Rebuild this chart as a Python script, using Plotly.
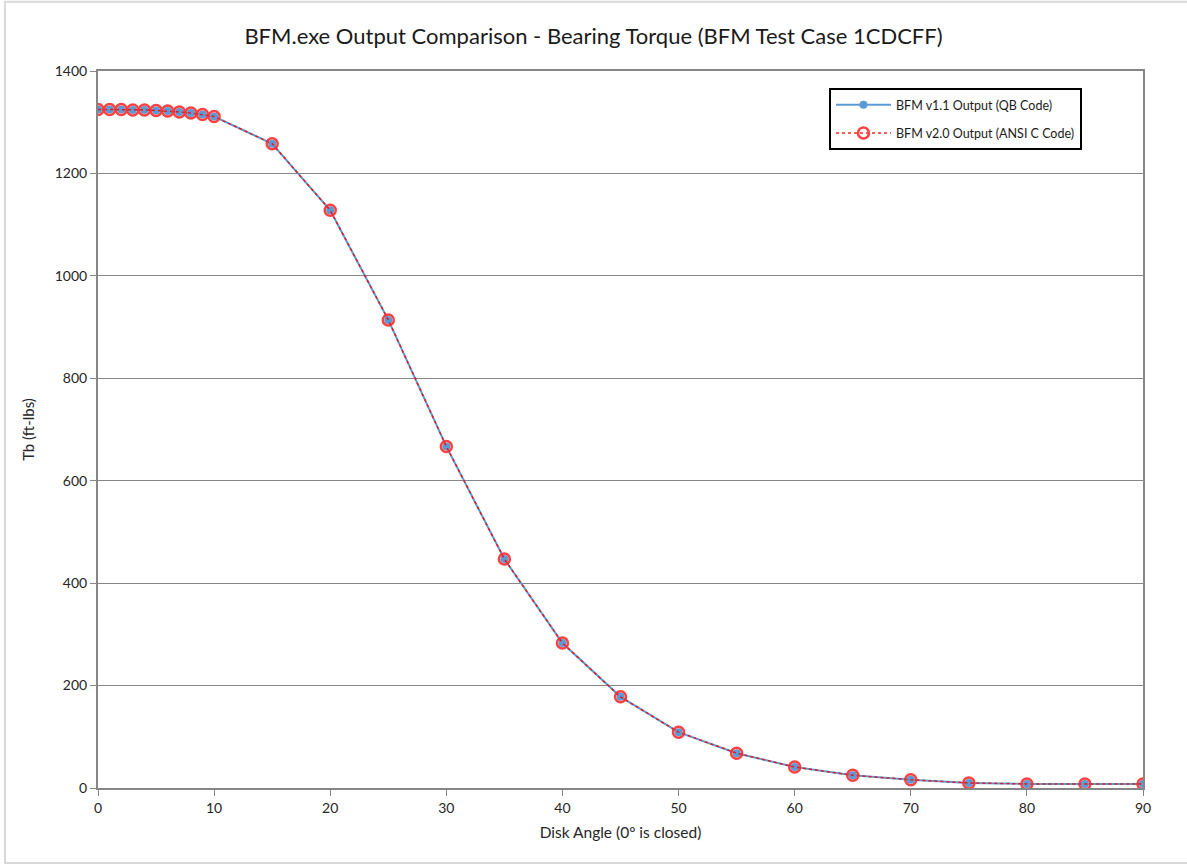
import plotly.graph_objects as go

# Disk angle (degrees) and bearing torque (ft-lbs)
angle = [0, 1, 2, 3, 4, 5, 6, 7, 8, 9, 10, 15, 20, 25, 30, 35, 40, 45, 50, 55, 60, 65, 70, 75, 80, 85, 90]
tb_v11 = [1325, 1325, 1325, 1324, 1324, 1323, 1322, 1320, 1318, 1315, 1311, 1258, 1128, 914, 667, 447, 283,
          178, 109, 68, 41, 25, 16, 10, 8, 8, 8]
tb_v20 = [1325, 1325, 1325, 1324, 1324, 1323, 1322, 1320, 1318, 1315, 1311, 1258, 1128, 914, 667, 447, 283,
          178, 109, 68, 41, 25, 16, 10, 8, 8, 8]

x_ticks = [0, 10, 20, 30, 40, 50, 60, 70, 80, 90]
y_ticks = [0, 200, 400, 600, 800, 1000, 1200, 1400]

FONT = "Lato"
AXIS_GREY = "#868686"

fig = go.Figure()
fig.add_trace(go.Scatter(
    x=angle, y=tb_v11, mode="lines+markers", name="BFM v1.1 Output (QB Code)",
    legendgroup="v11",
    line=dict(color="#5b9bd5", width=2),
    marker=dict(color="#5b9bd5", size=8, symbol="circle"),
))
fig.add_trace(go.Scatter(
    x=angle, y=tb_v20, mode="lines+markers", name="BFM v2.0 Output (ANSI C Code)",
    legendgroup="v20",
    line=dict(color="#ff0000", width=1.5, dash="dot"),
    marker=dict(color="#ff2020", size=11, symbol="circle-open", line=dict(width=2.5)),
    opacity=0.85,
))

fig.update_layout(
    width=1187, height=866,
    margin=dict(l=98, r=44, t=71, b=78),
    paper_bgcolor="white", plot_bgcolor="white",
    font=dict(family=FONT, color="#262626", size=13),
    title=dict(text="BFM.exe Output Comparison - Bearing Torque (BFM Test Case 1CDCFF)",
               x=0.5, xanchor="center", y=0.958, yanchor="middle",
               font=dict(family=FONT, size=22, color="#1a1a1a")),
    showlegend=True,
    legend=dict(x=0.6995, y=0.976, xanchor="left", yanchor="top",
                bordercolor="#000000", borderwidth=2, bgcolor="white",
                font=dict(family=FONT, size=12.5, color="#1a1a1a"),
                tracegroupgap=9, itemwidth=55),
    shapes=[
        dict(type="rect", xref="paper", yref="paper",
             x0=-0.089, x1=1.06, y0=-0.1045, y1=1.0965,
             line=dict(color="#d9d9d9", width=2), layer="below"),
    ],
)

fig.update_xaxes(
    range=[0, 90], tickvals=x_ticks, ticktext=[str(v) for v in x_ticks],
    showgrid=False, zeroline=False,
    showline=True, linecolor=AXIS_GREY, linewidth=2, mirror=True,
    ticks="outside", ticklen=6, tickcolor=AXIS_GREY, tickwidth=1,
    tickfont=dict(family=FONT, size=14, color="#262626"),
    title=dict(text="Disk Angle (0º is closed)", standoff=12,
               font=dict(family=FONT, size=15.5, color="#262626")),
)
fig.update_yaxes(
    range=[0, 1400], tickvals=y_ticks, ticktext=[str(v) for v in y_ticks],
    showgrid=True, gridcolor=AXIS_GREY, gridwidth=1, zeroline=False,
    showline=True, linecolor=AXIS_GREY, linewidth=2, mirror=True,
    ticks="outside", ticklen=6, tickcolor=AXIS_GREY, tickwidth=1,
    tickfont=dict(family=FONT, size=14, color="#262626"),
    title=dict(text="Tb (ft-lbs)", standoff=16,
               font=dict(family=FONT, size=15, color="#262626")),
)

fig.write_html("out.html")
